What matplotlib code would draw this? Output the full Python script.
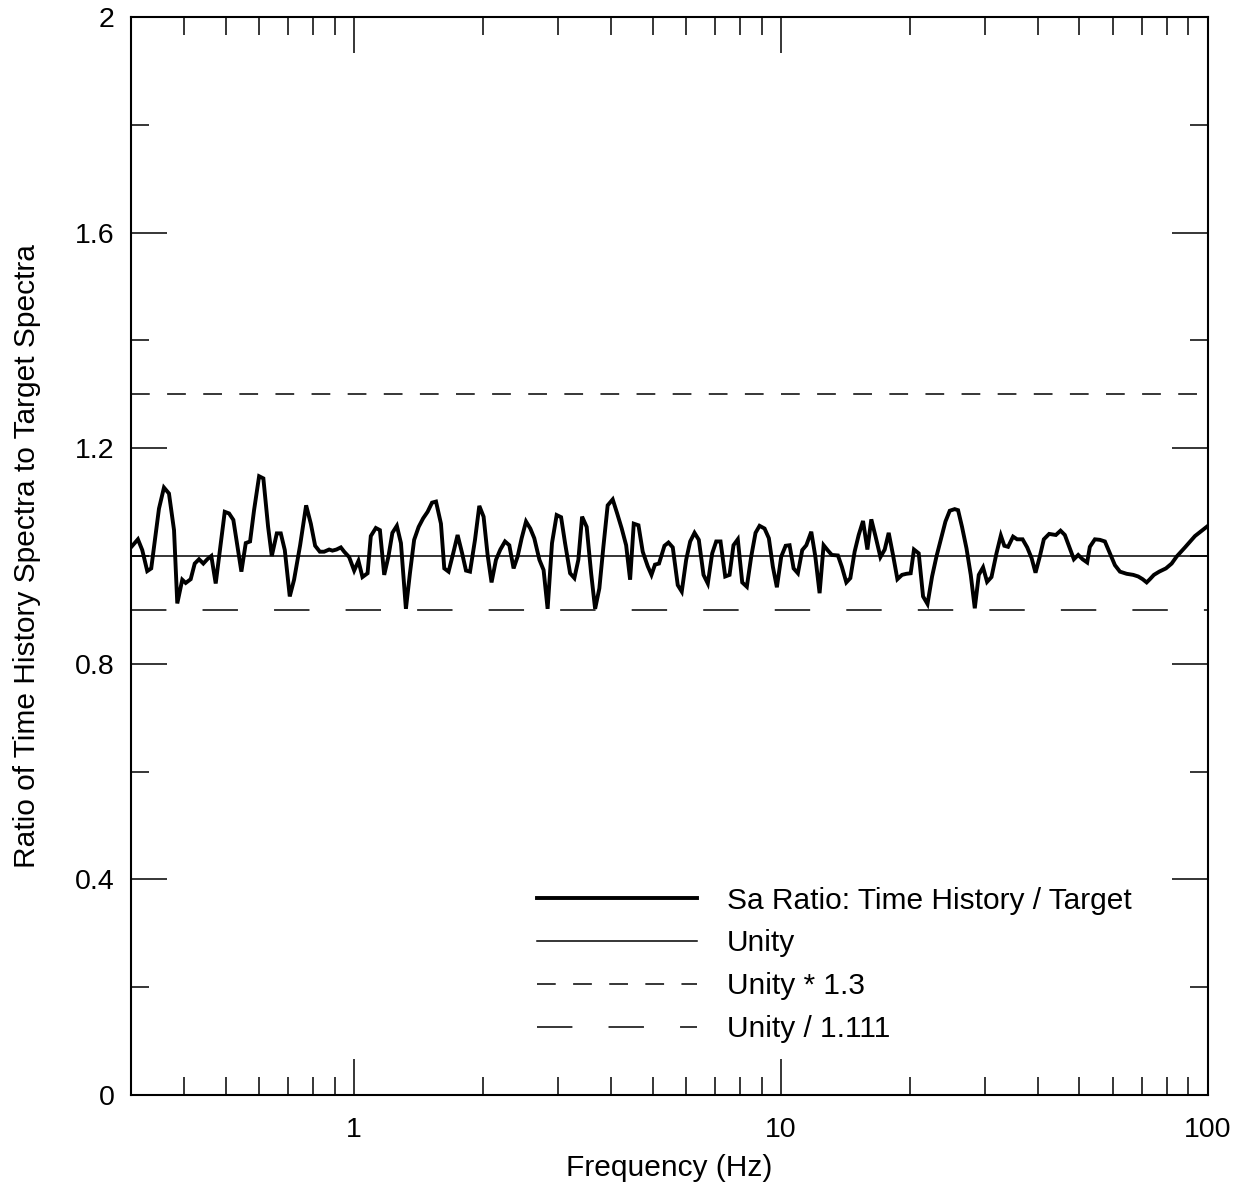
import matplotlib
matplotlib.use("Agg")
import matplotlib.pyplot as plt
from matplotlib.ticker import LogLocator, FixedLocator, NullFormatter, FixedFormatter

plt.rcParams['font.family'] = ['Liberation Sans', 'DejaVu Sans']
plt.rcParams['lines.scale_dashes'] = False

# Frequencies (Hz) of the spectral ratio curve
freq = [
    0.3000, 0.3115, 0.3189, 0.3276, 0.3347, 0.3490, 0.3585, 0.3683, 0.3785, 0.3852,
    0.3957, 0.4031, 0.4141, 0.4232, 0.4331, 0.4433, 0.4529, 0.4628, 0.4739, 0.4870,
    0.4976, 0.5093, 0.5212, 0.5443, 0.5573, 0.5704, 0.5828, 0.5989, 0.6128, 0.6287,
    0.6413, 0.6589, 0.6732, 0.6879, 0.7066, 0.7232, 0.7472, 0.7718, 0.7916, 0.8102,
    0.8310, 0.8505, 0.8738, 0.8895, 0.9089, 0.9307, 0.9476, 0.9734, 1.000, 1.0235,
    1.0458, 1.075, 1.094, 1.124, 1.149, 1.176, 1.203, 1.229, 1.259, 1.287,
    1.322, 1.351, 1.382, 1.416, 1.451, 1.486, 1.522, 1.555, 1.597, 1.626,
    1.664, 1.706, 1.747, 1.789, 1.828, 1.868, 1.919, 1.964, 2.010, 2.054,
    2.098, 2.149, 2.200, 2.256, 2.309, 2.363, 2.415, 2.468, 2.527, 2.586,
    2.642, 2.716, 2.778, 2.839, 2.907, 2.981, 3.053, 3.119, 3.205, 3.280,
    3.351, 3.419, 3.505, 3.590, 3.668, 3.753, 3.835, 3.925, 4.033, 4.131,
    4.234, 4.336, 4.430, 4.518, 4.634, 4.742, 4.872, 4.971, 5.066, 5.177,
    5.332, 5.448, 5.576, 5.728, 5.853, 5.994, 6.125, 6.270, 6.417, 6.582,
    6.736, 6.898, 7.048, 7.214, 7.399, 7.574, 7.737, 7.919, 8.110, 8.314,
    8.513, 8.714, 8.905, 9.148, 9.363, 9.568, 9.777, 10.01, 10.25, 10.47,
    10.70, 10.95, 11.21, 11.46, 11.77, 12.03, 12.31, 12.58, 12.88, 13.15,
    13.59, 13.88, 14.22, 14.53, 14.87, 15.20, 15.56, 15.93, 16.27, 16.65,
    17.09, 17.49, 17.87, 18.29, 18.73, 19.20, 19.66, 20.12, 20.48, 21.01,
    21.51, 22.03, 22.58, 23.12, 23.75, 24.27, 24.84, 25.51, 25.98, 26.54,
    27.19, 27.82, 28.43, 29.05, 29.73, 30.38, 31.11, 31.96, 32.72, 33.34,
    34.02, 34.95, 35.72, 36.79, 37.72, 38.63, 39.45, 40.37, 41.26, 42.46,
    44.02, 45.15, 46.21, 47.48, 48.52, 49.66, 50.85, 52.12, 52.88, 54.34,
    55.83, 57.35, 58.93, 60.54, 62.20, 64.49, 66.83, 68.65, 70.30, 71.84,
    73.11, 74.71, 76.88, 79.71, 82.21, 84.45, 88.34, 93.22, 100.0,
]

# Sa ratio of time-history spectrum to target spectrum
sa_ratio = [
    1.016, 1.031, 1.011, 0.972, 0.977, 1.088, 1.127, 1.116, 1.048, 0.912,
    0.956, 0.950, 0.957, 0.986, 0.994, 0.986, 0.994, 1.000, 0.949, 1.024,
    1.082, 1.079, 1.067, 0.971, 1.024, 1.027, 1.085, 1.148, 1.144, 1.054,
    1.000, 1.042, 1.042, 1.011, 0.925, 0.956, 1.020, 1.094, 1.060, 1.019,
    1.008, 1.008, 1.012, 1.010, 1.012, 1.016, 1.008, 0.998, 0.973, 0.991,
    0.961, 0.968, 1.037, 1.052, 1.048, 0.965, 0.999, 1.043, 1.056, 1.024,
    0.902, 0.968, 1.030, 1.054, 1.070, 1.082, 1.099, 1.101, 1.060, 0.977,
    0.971, 1.005, 1.039, 1.006, 0.973, 0.971, 1.030, 1.093, 1.073, 1.002,
    0.951, 0.993, 1.012, 1.027, 1.020, 0.977, 0.999, 1.033, 1.064, 1.051,
    1.033, 0.993, 0.974, 0.902, 1.024, 1.076, 1.072, 1.024, 0.968, 0.959,
    0.993, 1.073, 1.054, 0.968, 0.902, 0.940, 1.017, 1.094, 1.105, 1.079,
    1.051, 1.020, 0.956, 1.060, 1.057, 1.008, 0.981, 0.965, 0.984, 0.986,
    1.019, 1.025, 1.016, 0.946, 0.934, 0.993, 1.027, 1.043, 1.030, 0.965,
    0.949, 1.005, 1.027, 1.027, 0.962, 0.965, 1.020, 1.031, 0.951, 0.943,
    0.999, 1.043, 1.056, 1.051, 1.033, 0.980, 0.942, 0.999, 1.019, 1.020,
    0.977, 0.968, 1.011, 1.020, 1.045, 0.999, 0.931, 1.020, 1.010, 1.002,
    1.001, 0.980, 0.951, 0.959, 1.008, 1.039, 1.065, 1.012, 1.068, 1.036,
    0.998, 1.012, 1.043, 1.002, 0.957, 0.965, 0.967, 0.968, 1.012, 1.005,
    0.925, 0.911, 0.962, 0.999, 1.035, 1.064, 1.084, 1.087, 1.085, 1.054,
    1.014, 0.965, 0.903, 0.965, 0.979, 0.952, 0.961, 1.005, 1.038, 1.019,
    1.017, 1.036, 1.031, 1.031, 1.016, 0.996, 0.969, 0.999, 1.031, 1.041,
    1.039, 1.047, 1.039, 1.014, 0.994, 1.002, 0.994, 0.988, 1.017, 1.031,
    1.030, 1.027, 1.005, 0.983, 0.971, 0.967, 0.965, 0.962, 0.957, 0.951,
    0.957, 0.965, 0.971, 0.977, 0.986, 0.999, 1.016, 1.037, 1.056,
]

# Reference levels
freq_range = [0.3, 100.0]
unity = 1.0
upper_factor = 1.3
lower_divisor = 1.111

x_major = [1, 10, 100]
x_major_labels = ['1', '10', '100']
y_major = [0, 0.4, 0.8, 1.2, 1.6, 2.0]
y_major_labels = ['0', '0.4', '0.8', '1.2', '1.6', '2']
y_minor = [0.2, 0.6, 1.0, 1.4, 1.8]

fig = plt.figure(figsize=(12.47, 11.83), dpi=100)
ax = fig.add_axes([0.105, 0.0744, 0.8637, 0.9112])

ax.plot(freq, sa_ratio, color='black', lw=2.8, solid_joinstyle='miter',
        label='Sa Ratio: Time History / Target', zorder=4)
ax.plot(freq_range, [unity, unity], color='black', lw=1.1, label='Unity', zorder=3)
ax.plot(freq_range, [unity * upper_factor] * 2, color='black', lw=1.1,
        dashes=(13.5, 12.5), label='Unity * 1.3', zorder=3)
ax.plot(freq_range, [unity / lower_divisor] * 2, color='black', lw=1.1,
        dashes=(25.5, 26.0), label='Unity / 1.111', zorder=3)

ax.set_xscale('log')
ax.set_xlim(freq_range)
ax.set_ylim(0, 2)

ax.xaxis.set_major_locator(FixedLocator(x_major))
ax.xaxis.set_major_formatter(FixedFormatter(x_major_labels))
ax.xaxis.set_minor_locator(LogLocator(base=10, subs=[2, 3, 4, 5, 6, 7, 8, 9], numticks=20))
ax.xaxis.set_minor_formatter(NullFormatter())

ax.set_yticks(y_major)
ax.set_yticklabels(y_major_labels)
ax.set_yticks(y_minor, minor=True)

ax.tick_params(which='both', direction='in', top=True, right=True, width=1.1,
               labelsize=20.5, color='black')
ax.tick_params(axis='y', pad=12)
ax.tick_params(axis='x', pad=16)
ax.tick_params(which='major', length=26)
ax.tick_params(which='minor', length=13)

for s in ax.spines.values():
    s.set_linewidth(1.5)

ax.set_xlabel('Frequency (Hz)', fontsize=21.5, labelpad=8)
ax.set_ylabel('Ratio of Time History Spectra to Target Spectra', fontsize=21.5, labelpad=24)

leg = ax.legend(loc='upper left', bbox_to_anchor=(0.377, 0.1934), frameon=False,
                fontsize=21.5, handlelength=5.35, handletextpad=1.0,
                labelspacing=0.5, borderpad=0, borderaxespad=0)

fig.savefig('out.png', dpi=100)
